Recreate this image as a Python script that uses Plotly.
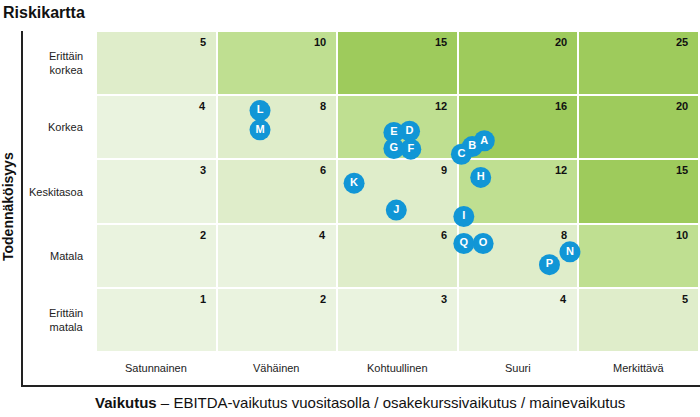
import plotly.graph_objects as go

# ---- data ----
impact_labels = ["Satunnainen", "Vähäinen", "Kohtuullinen", "Suuri", "Merkittävä"]
likelihood_labels = ["Erittäin<br>matala", "Matala", "Keskitasoa", "Korkea", "Erittäin<br>korkea"]
impact_levels = [1, 2, 3, 4, 5]
likelihood_levels = [1, 2, 3, 4, 5]

risk_ids = ["A", "B", "C", "D", "E", "F", "G", "H", "I", "J", "K", "L", "M", "N", "O", "P", "Q"]
risk_impact = [3.72, 3.62, 3.53, 3.10, 2.97, 3.11, 2.97, 3.69, 3.55, 2.99, 2.64, 1.86, 1.86, 4.43, 3.71, 4.26, 3.55]
risk_likelihood = [3.79, 3.70, 3.58, 3.94, 3.92, 3.66, 3.67, 3.22, 2.61, 2.71, 3.13, 4.26, 3.96, 2.06, 2.19, 1.86, 2.19]

# colour class per score band
def band(score):
    if score <= 4:
        return 0
    if score <= 9:
        return 1
    if score <= 12:
        return 2
    return 3

band_colors = ["#eaf3df", "#dfedca", "#bfdf91", "#9ecb5c"]

scores = [[i * l for i in impact_levels] for l in likelihood_levels]
z = [[band(s) for s in row] for row in scores]

colorscale = []
for k, c in enumerate(band_colors):
    colorscale.append([k / 4, c])
    colorscale.append([(k + 1) / 4, c])

fig = go.Figure()
fig.add_trace(go.Heatmap(
    x=impact_levels, y=likelihood_levels, z=z,
    colorscale=colorscale, zmin=0, zmax=4, showscale=False,
    xgap=2, ygap=2, hoverinfo="skip",
))

fig.add_trace(go.Scatter(
    x=risk_impact, y=risk_likelihood, mode="markers+text",
    text=risk_ids, textposition="middle center",
    textfont=dict(family="Liberation Sans", size=11, color="white", weight="bold"),
    marker=dict(size=21, color="#1196d6", line=dict(width=0)),
    hoverinfo="text", showlegend=False,
))

# cell score labels
annotations = []
for li, l in enumerate(likelihood_levels):
    for ii, i in enumerate(impact_levels):
        annotations.append(dict(
            x=i + 0.5, y=l + 0.5, xref="x", yref="y",
            text="<b>%d</b>" % scores[li][ii], showarrow=False,
            xanchor="right", yanchor="middle", xshift=-9, yshift=-11,
            font=dict(family="Liberation Sans", size=11, color="#111"),
        ))

# column labels
for ii, i in enumerate(impact_levels):
    annotations.append(dict(
        x=i, y=-0.0498, xref="x", yref="paper", text=impact_labels[ii],
        showarrow=False, xanchor="center", yanchor="middle",
        font=dict(family="Liberation Sans", size=11, color="#222"),
    ))

# row labels
for li, l in enumerate(likelihood_levels):
    annotations.append(dict(
        x=-0.0166, y=l, xref="paper", yref="y", text=likelihood_labels[li],
        showarrow=False, xanchor="right", yanchor="middle", align="center",
        font=dict(family="Liberation Sans", size=11, color="#222"),
    ))

W, H = 700, 417
L, R, T, B = 96, 1, 31, 65
pw, ph = W - L - R, H - T - B

def px(xp):
    return (xp - L) / pw

def py(yp):
    return (H - B - yp) / ph

annotations.append(dict(
    x=px(1), y=py(13), xref="paper", yref="paper", text="<b>Riskikartta</b>",
    showarrow=False, xanchor="left", yanchor="middle",
    font=dict(family="Liberation Sans", size=16, color="#111"),
))
annotations.append(dict(
    x=px(8), y=py(207), xref="paper", yref="paper", text="<b>Todennäköisyys</b>",
    showarrow=False, xanchor="center", yanchor="middle", textangle=-90,
    font=dict(family="Liberation Sans", size=14, color="#111"),
))
annotations.append(dict(
    x=px(360), y=py(402), xref="paper", yref="paper",
    text="<b>Vaikutus</b> – EBITDA-vaikutus vuositasolla / osakekurssivaikutus / mainevaikutus",
    showarrow=False, xanchor="center", yanchor="middle",
    font=dict(family="Liberation Sans", size=15, color="#111"),
))

shapes = [
    dict(type="line", xref="paper", yref="paper", x0=px(22), x1=px(22), y0=py(31), y1=py(386),
         line=dict(color="#222", width=2)),
    dict(type="line", xref="paper", yref="paper", x0=px(21), x1=px(700), y0=py(386), y1=py(386),
         line=dict(color="#222", width=2)),
]

fig.update_layout(
    width=W, height=H, margin=dict(l=L, r=R, t=T, b=B),
    paper_bgcolor="white", plot_bgcolor="white",
    xaxis=dict(range=[0.5, 5.5], showgrid=False, zeroline=False, showticklabels=False, fixedrange=True),
    yaxis=dict(range=[0.5, 5.5], showgrid=False, zeroline=False, showticklabels=False, fixedrange=True),
    annotations=annotations, shapes=shapes, showlegend=False,
)

fig.write_html("out.html")
